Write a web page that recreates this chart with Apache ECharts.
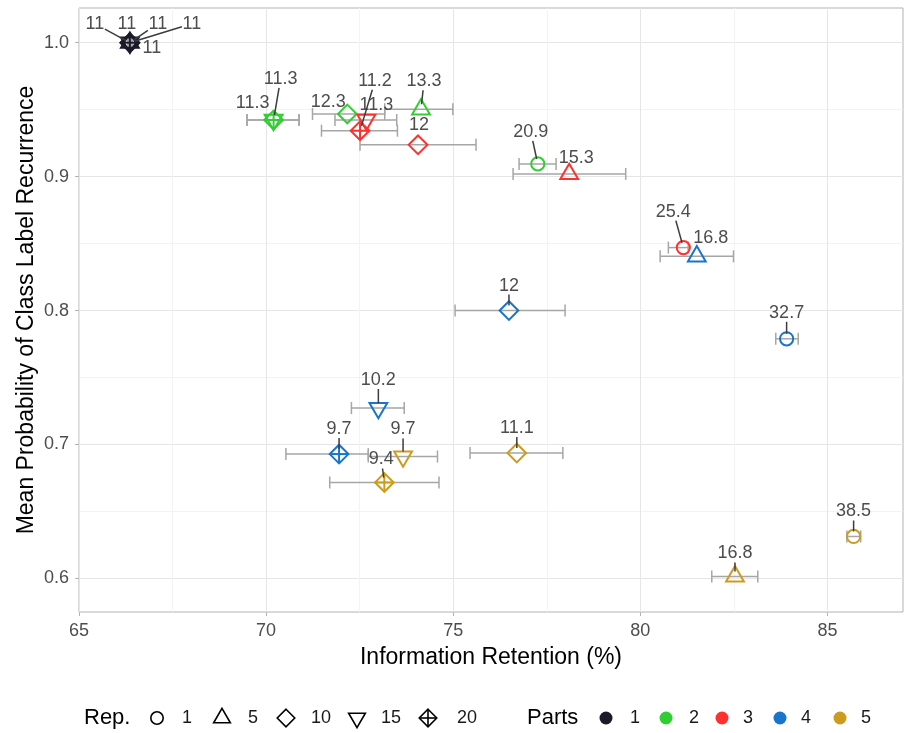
<!DOCTYPE html>
<html>
<head>
<meta charset="utf-8">
<script src="https://cdn.jsdelivr.net/npm/echarts@6/dist/echarts.min.js"></script>
<style>
  html, body { margin: 0; padding: 0; background: #ffffff; }
  #chart { width: 911px; height: 733px; }
</style>
</head>
<body>
<div id="chart"></div>
<script>
// ---- data -------------------------------------------------------------
const partIds = [1, 2, 3, 4, 5];
const repIds = [1, 5, 10, 15, 20];

const pointPart = [1, 1, 1, 1, 1, 2, 2, 2, 2, 2, 3, 3, 3, 3, 3, 4, 4, 4, 4, 4, 5, 5, 5, 5, 5];
const pointRep  = [1, 5, 10, 15, 20, 1, 5, 10, 15, 20, 1, 5, 10, 15, 20, 1, 5, 10, 15, 20, 1, 5, 10, 15, 20];

// Information retention (%) : mean and interval ends
const retention = [
  66.36, 66.36, 66.36, 66.36, 66.36,
  77.26, 74.14, 72.17, 70.20, 70.20,
  81.15, 78.10, 74.06, 72.68, 72.51,
  83.91, 81.51, 76.49, 73.00, 71.95,
  85.70, 82.53, 76.70, 73.66, 73.16
];
const retentionLow = [
  66.31, 66.31, 66.31, 66.31, 66.31,
  76.76, 73.17, 71.24, 69.49, 69.49,
  80.75, 76.60, 72.51, 71.84, 71.48,
  83.62, 80.53, 75.05, 72.28, 70.53,
  85.52, 81.91, 75.45, 72.73, 71.70
];
const retentionHigh = [
  66.41, 66.41, 66.41, 66.41, 66.41,
  77.75, 74.99, 73.17, 70.88, 70.88,
  81.28, 79.61, 75.61, 73.49, 73.51,
  84.22, 82.49, 77.99, 73.69, 72.73,
  85.89, 83.14, 77.93, 74.58, 74.62
];
// Mean probability of class label recurrence
const recurrence = [
  1.0, 1.0, 1.0, 1.0, 1.0,
  0.9095, 0.9503, 0.9468, 0.9423, 0.9423,
  0.8470, 0.9020, 0.9237, 0.9423, 0.9343,
  0.7789, 0.8405, 0.8000, 0.7272, 0.6928,
  0.6313, 0.6015, 0.6936, 0.6910, 0.6716
];
// value printed next to each point
const pointLabel = [
  11, 11, 11, 11, 11,
  20.9, 13.3, 12.3, 11.3, 11.3,
  25.4, 15.3, 12, 11.3, 11.2,
  32.7, 16.8, 12, 10.2, 9.7,
  38.5, 16.8, 11.1, 9.7, 9.4
];

const xTicks = [65, 70, 75, 80, 85];
const yTicks = [0.6, 0.7, 0.8, 0.9, 1.0];

// ---- styling ----------------------------------------------------------
const FONT = "'Liberation Sans', Arial, Helvetica, sans-serif";
const partColor = { 1: '#1a1a2a', 2: '#32cd32', 3: '#ff3030', 4: '#1874cd', 5: '#cd9b1d' };

// pixel shift of each text label away from its point (repelled placement)
const labelShift = [
  [22, 5], [-35, -19], [-3, -19], [28, -19], [62, -19],
  [-7, -32], [3, -28], [-19, -12], [-21, -17], [7, -41],
  [-10, -36], [7, -16], [1, -20], [10, -15], [15, -50],
  [0, -26], [14, -18], [0, -25], [0, -28], [0, -25],
  [0, -25], [0, -23], [0, -25], [0, -27], [-3, -23]
];

const LABEL_SIZE = 18;

// outline shapes: circle, triangle, diamond, inverted triangle, crossed diamond
function shapeEls(rep, x, y, color, R, lw) {
  const st = { fill: 'none', stroke: color, lineWidth: lw, lineJoin: 'miter' };
  if (rep === 1) {
    return [{ type: 'circle', shape: { cx: x, cy: y, r: R }, style: st }];
  }
  const a = 1.555 * R, b = 0.7776 * R, w = 1.347 * R, d = 1.414 * R;
  if (rep === 5) {
    return [{ type: 'polygon', shape: { points: [[x, y - a], [x + w, y + b], [x - w, y + b]] }, style: st }];
  }
  if (rep === 15) {
    return [{ type: 'polygon', shape: { points: [[x, y + a], [x + w, y - b], [x - w, y - b]] }, style: st }];
  }
  const diamond = { type: 'polygon', shape: { points: [[x, y - d], [x + d, y], [x, y + d], [x - d, y]] }, style: st };
  if (rep === 10) return [diamond];
  return [
    diamond,
    { type: 'line', shape: { x1: x, y1: y - d, x2: x, y2: y + d }, style: st },
    { type: 'line', shape: { x1: x - d, y1: y, x2: x + d, y2: y }, style: st }
  ];
}

function labelWidth(str) {
  let w = 0;
  for (const ch of str) w += (ch === '.') ? 0.278 : 0.556;
  return w * LABEL_SIZE;
}

const seriesData = retention.map((x, i) => [x, recurrence[i], retentionLow[i], retentionHigh[i], i]);

// horizontal interval bars
function renderBar(params, api) {
  const y = api.value(1);
  const p0 = api.coord([api.value(2), y]);
  const p1 = api.coord([api.value(3), y]);
  const st = { stroke: '#a6a6a6', lineWidth: 1.5 };
  const h = 6;
  return {
    type: 'group',
    children: [
      { type: 'line', shape: { x1: p0[0], y1: p0[1], x2: p1[0], y2: p1[1] }, style: st },
      { type: 'line', shape: { x1: p0[0], y1: p0[1] - h, x2: p0[0], y2: p0[1] + h }, style: st },
      { type: 'line', shape: { x1: p1[0], y1: p1[1] - h, x2: p1[0], y2: p1[1] + h }, style: st }
    ]
  };
}

function renderPoint(params, api) {
  const i = api.value(4);
  const p = api.coord([api.value(0), api.value(1)]);
  return { type: 'group', children: shapeEls(pointRep[i], p[0], p[1], partColor[pointPart[i]], 6.6, 2) };
}

function renderLabel(params, api) {
  const i = api.value(4);
  const p = api.coord([api.value(0), api.value(1)]);
  const txt = String(pointLabel[i]);
  const lx = p[0] + labelShift[i][0];
  const ly = p[1] + labelShift[i][1];
  const hw = labelWidth(txt) / 2, hh = LABEL_SIZE / 2;
  const children = [];
  const dx = p[0] - lx, dy = p[1] - ly;
  const len = Math.hypot(dx, dy);
  if (len > 0) {
    const tx = dx !== 0 ? hw / Math.abs(dx) : Infinity;
    const ty = dy !== 0 ? hh / Math.abs(dy) : Infinity;
    const t0 = Math.min(tx, ty);
    const t1 = 1 - 5 / len;
    if (t0 < 1 && (t1 - t0) * len >= 8) {
      children.push({
        type: 'line',
        shape: { x1: lx + dx * t0, y1: ly + dy * t0, x2: lx + dx * t1, y2: ly + dy * t1 },
        style: { stroke: '#3c3c3c', lineWidth: 1.5 }
      });
    }
  }
  children.push({
    type: 'text',
    style: {
      text: txt, x: lx, y: ly, align: 'center', verticalAlign: 'middle',
      font: LABEL_SIZE + 'px ' + FONT, fill: '#4d4d4d'
    }
  });
  return { type: 'group', children };
}

// ---- legend (drawn as graphic elements) --------------------------------
const LEG_Y = 718;
const repIconX = [157, 222, 286, 357, 428];
const repTextX = [187, 253, 321, 391, 467];
const partIconX = [606, 666, 722, 780, 840];
const partTextX = [635, 694, 748, 806, 866];
const legendEls = [];
legendEls.push({ type: 'text', style: { text: 'Rep.', x: 84, y: LEG_Y, verticalAlign: 'middle', font: '22px ' + FONT, fill: '#000' } });
repIds.forEach((r, k) => {
  shapeEls(r, repIconX[k], LEG_Y, '#000000', 6.2, 1.6).forEach(e => legendEls.push(e));
  legendEls.push({ type: 'text', style: { text: String(r), x: repTextX[k], y: LEG_Y, align: 'center', verticalAlign: 'middle', font: '18px ' + FONT, fill: '#1a1a1a' } });
});
legendEls.push({ type: 'text', style: { text: 'Parts', x: 527, y: LEG_Y, verticalAlign: 'middle', font: '22px ' + FONT, fill: '#000' } });
partIds.forEach((p, k) => {
  legendEls.push({ type: 'circle', shape: { cx: partIconX[k], cy: LEG_Y, r: 6.5 }, style: { fill: partColor[p] } });
  legendEls.push({ type: 'text', style: { text: String(p), x: partTextX[k], y: LEG_Y, align: 'center', verticalAlign: 'middle', font: '18px ' + FONT, fill: '#1a1a1a' } });
});

// ---- chart ------------------------------------------------------------
const chart = echarts.init(document.getElementById('chart'), null, { renderer: 'canvas' });
chart.setOption({
  backgroundColor: '#ffffff',
  animation: false,
  textStyle: { fontFamily: FONT },
  grid: { left: 79, right: 8, top: 8, bottom: 121, show: true, borderColor: '#b3b3b3', borderWidth: 1, backgroundColor: 'transparent' },
  xAxis: {
    type: 'value', min: 65, max: 87.02, splitNumber: 5,
    name: 'Information Retention (%)', nameLocation: 'middle', nameGap: 34, nameMoveOverlap: false,
    nameTextStyle: { fontSize: 23, color: '#000', fontFamily: FONT },
    axisLine: { show: false },
    axisTick: { show: true, length: 4, customValues: xTicks, lineStyle: { color: '#b3b3b3', width: 1 } },
    axisLabel: { customValues: xTicks, color: '#4d4d4d', fontSize: 18, margin: 10, fontFamily: FONT },
    splitLine: { show: true, lineStyle: { color: '#e6e6e6', width: 1 } },
    minorTick: { show: false, splitNumber: 2 },
    minorSplitLine: { show: true, lineStyle: { color: '#f3f3f3', width: 1 } }
  },
  yAxis: {
    type: 'value', min: 0.5749, max: 1.0259, splitNumber: 5,
    name: 'Mean Probability of Class Label Recurrence', nameLocation: 'middle', nameGap: 41, nameMoveOverlap: false,
    nameTextStyle: { fontSize: 23, color: '#000', fontFamily: FONT },
    axisLine: { show: false },
    axisTick: { show: true, length: 4, customValues: yTicks, lineStyle: { color: '#b3b3b3', width: 1 } },
    axisLabel: { customValues: yTicks, color: '#4d4d4d', fontSize: 18, margin: 10, fontFamily: FONT,
      formatter: v => Number(v).toFixed(1) },
    splitLine: { show: true, lineStyle: { color: '#e6e6e6', width: 1 } },
    minorTick: { show: false, splitNumber: 2 },
    minorSplitLine: { show: true, lineStyle: { color: '#f3f3f3', width: 1 } }
  },
  series: [
    { type: 'custom', name: 'interval', renderItem: renderBar, data: seriesData, z: 2, clip: false,
      encode: { x: [0, 2, 3], y: 1 } },
    { type: 'custom', name: 'points', renderItem: renderPoint, data: seriesData, z: 3, clip: false,
      encode: { x: 0, y: 1 } },
    { type: 'custom', name: 'labels', renderItem: renderLabel, data: seriesData, z: 4, clip: false,
      encode: { x: 0, y: 1 } }
  ],
  graphic: legendEls
});
</script>
</body>
</html>
